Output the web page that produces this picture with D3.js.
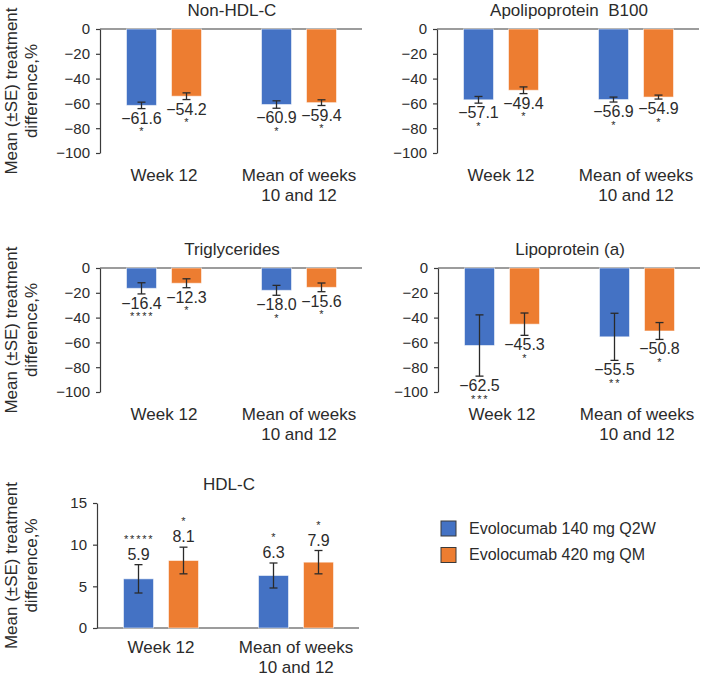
<!DOCTYPE html>
<html>
<head>
<meta charset="utf-8">
<script src="https://cdn.jsdelivr.net/npm/d3@7"></script>
<style>
  html, body { margin: 0; padding: 0; background: #fff; }
  svg { display: block; font-family: "Liberation Sans", Arial, Helvetica, sans-serif; }
</style>
</head>
<body>
<svg id="chart" width="709" height="677"></svg>
<script>
// ---------- DATA ----------
const categories = ["Week 12", "Mean of weeks\n10 and 12"];
const seriesNames = ["Evolocumab 140 mg Q2W", "Evolocumab 420 mg QM"];
const panelTitles = ["Non-HDL-C", "Apolipoprotein  B100", "Triglycerides", "Lipoprotein (a)", "HDL-C"];
const means140 = [[-61.6, -60.9], [-57.1, -56.9], [-16.4, -18.0], [-62.5, -55.5], [5.9, 6.3]];
const means420 = [[-54.2, -59.4], [-49.4, -54.9], [-12.3, -15.6], [-45.3, -50.8], [8.1, 7.9]];
const se140 = [[2.6, 3.0], [2.7, 2.0], [4.5, 4.0], [24.7, 19.0], [1.7, 1.5]];
const se420 = [[2.7, 2.3], [2.7, 1.6], [3.6, 3.5], [9.0, 6.8], [1.6, 1.4]];
const stars140 = [["*", "*"], ["*", "*"], ["****", "*"], ["***", "**"], ["*****", "*"]];
const stars420 = [["*", "*"], ["*", "*"], ["*", "*"], ["*", "*"], ["*", "*"]];
const negTicks = [0, -20, -40, -60, -80, -100];
const posTicks = [0, 5, 10, 15];
const yTitleLines = ["Mean (\u00B1SE) treatment", "difference,%"];

// ---------- LAYOUT / STYLE ----------
const colors = ["#4472C4", "#ED7D31"];
const textColor = "#2b2b2b";
const axisColor = "#3a3a3a";
const layout = [
  { axisX: 100, yA: 29,  yB: 153, domain: [0, -100], ticks: negTicks, yTitle: true },
  { axisX: 437, yA: 29,  yB: 153, domain: [0, -100], ticks: negTicks, yTitle: false },
  { axisX: 100, yA: 268, yB: 392, domain: [0, -100], ticks: negTicks, yTitle: true },
  { axisX: 438, yA: 268, yB: 392, domain: [0, -100], ticks: negTicks, yTitle: false },
  { axisX: 97,  yA: 503, yB: 628, domain: [15, 0],   ticks: posTicks, yTitle: true }
];

const svg = d3.select("#chart");
const fmt = d3.format(".1f");

layout.forEach((L, p) => {
  const g = svg.append("g");
  const y = d3.scaleLinear().domain(L.domain).range([L.yA, L.yB]);
  const x0 = d3.scaleBand().domain(categories).range([L.axisX - 3.5, L.axisX + 266.5]);
  const x1 = d3.scaleBand().domain([0, 1]).range([0, x0.bandwidth()])
    .paddingInner(1 / 3).paddingOuter(2 / 3);
  const zeroY = y(0);
  const negative = L.domain[1] < 0;

  // title
  g.append("text")
    .attr("x", L.axisX + 132)
    .attr("y", L.yA - 13)
    .attr("text-anchor", "middle")
    .attr("font-size", 17)
    .attr("fill", textColor)
    .style("white-space", "pre")
    .text(panelTitles[p]);

  // y axis
  const yAxis = d3.axisLeft(y).tickValues(L.ticks).tickSize(4).tickPadding(6).tickSizeOuter(0);
  const ax = g.append("g").attr("transform", `translate(${L.axisX},0)`).call(yAxis);
  ax.selectAll("path, line").attr("stroke", axisColor).attr("stroke-width", 1.2);
  ax.selectAll("text").attr("font-size", 15).attr("fill", textColor)
    .attr("font-family", '"Liberation Sans", Arial, sans-serif');

  // baseline at zero
  g.append("line")
    .attr("x1", L.axisX).attr("x2", L.axisX + 262)
    .attr("y1", zeroY).attr("y2", zeroY)
    .attr("stroke", axisColor).attr("stroke-width", 1.2);

  // bars
  const rows = [];
  categories.forEach((c, ci) => {
    [0, 1].forEach(si => {
      rows.push({
        cat: c, s: si,
        v: (si === 0 ? means140 : means420)[p][ci],
        se: (si === 0 ? se140 : se420)[p][ci],
        star: (si === 0 ? stars140 : stars420)[p][ci]
      });
    });
  });

  const bx = d => x0(d.cat) + x1(d.s);
  const bw = x1.bandwidth();

  g.selectAll("rect.bar").data(rows).enter().append("rect")
    .attr("class", "bar")
    .attr("x", d => bx(d))
    .attr("width", bw)
    .attr("y", d => Math.min(y(d.v), zeroY))
    .attr("height", d => Math.abs(y(d.v) - zeroY))
    .attr("fill", d => colors[d.s])
    .attr("stroke", "rgba(255,255,255,0.55)")
    .attr("stroke-width", 1);

  // error bars
  const eg = g.selectAll("g.err").data(rows).enter().append("g").attr("class", "err");
  const cx = d => bx(d) + bw / 2;
  eg.append("line")
    .attr("x1", cx).attr("x2", cx)
    .attr("y1", d => y(d.v - d.se)).attr("y2", d => y(d.v + d.se));
  eg.append("line")
    .attr("x1", d => cx(d) - 4).attr("x2", d => cx(d) + 4)
    .attr("y1", d => y(d.v - d.se)).attr("y2", d => y(d.v - d.se));
  eg.append("line")
    .attr("x1", d => cx(d) - 4).attr("x2", d => cx(d) + 4)
    .attr("y1", d => y(d.v + d.se)).attr("y2", d => y(d.v + d.se));
  eg.selectAll("line").attr("stroke", "#2a2a2a").attr("stroke-width", 1.3);

  // value labels and stars
  rows.forEach(d => {
    let labelY, starY;
    if (negative) {
      labelY = y(d.v - d.se) + 15;
      starY = labelY + 11.5;
    } else {
      labelY = y(d.v + d.se) - 5;
      starY = labelY - 17;
    }
    g.append("text")
      .attr("x", cx(d)).attr("y", labelY)
      .attr("text-anchor", "middle")
      .attr("font-size", 16).attr("fill", textColor)
      .text(fmt(d.v));
    g.append("text")
      .attr("x", cx(d) + 0.7).attr("y", starY)
      .attr("text-anchor", "middle")
      .attr("font-size", 11).attr("fill", textColor)
      .attr("letter-spacing", 1.8)
      .text(d.star);
  });

  // category labels
  categories.forEach(c => {
    const lines = c.split("\n");
    const t = g.append("text")
      .attr("x", x0(c) + x0.bandwidth() / 2)
      .attr("y", negative ? y(L.domain[1]) + 28 : zeroY + 25)
      .attr("text-anchor", "middle")
      .attr("font-size", 17).attr("fill", textColor);
    lines.forEach((ln, i) => {
      t.append("tspan").attr("x", x0(c) + x0.bandwidth() / 2)
        .attr("dy", i === 0 ? 0 : 19.5).text(ln);
    });
  });

  // y axis title
  if (L.yTitle) {
    const midY = (L.yA + L.yB) / 2;
    yTitleLines.forEach((ln, i) => {
      g.append("text")
        .attr("transform", `translate(${17 + i * 20},${midY}) rotate(-90)`)
        .attr("text-anchor", "middle")
        .attr("font-size", 17).attr("fill", textColor)
        .text(ln);
    });
  }
});

// legend
const legend = svg.append("g");
seriesNames.forEach((name, i) => {
  legend.append("rect")
    .attr("x", 441).attr("y", 521 + i * 26.5)
    .attr("width", 15).attr("height", 15)
    .attr("fill", colors[i]).attr("stroke", "#3a3a3a").attr("stroke-width", 1);
  legend.append("text")
    .attr("x", 469).attr("y", 533.5 + i * 26.5)
    .attr("font-size", 16).attr("fill", textColor)
    .text(name);
});
</script>
</body>
</html>
